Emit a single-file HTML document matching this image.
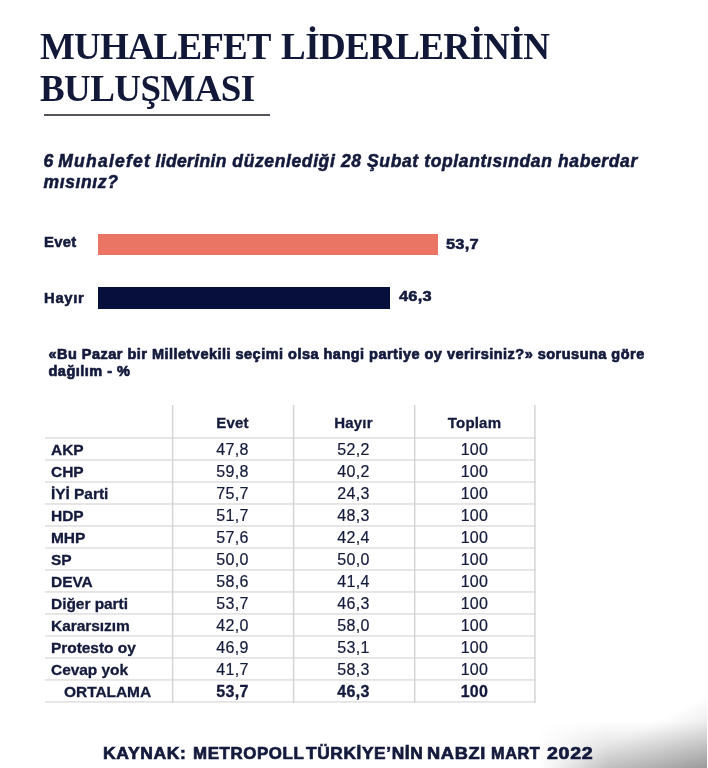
<!DOCTYPE html>
<html lang="tr">
<head>
<meta charset="utf-8">
<title>Muhalefet Liderlerinin Buluşması</title>
<style>
html,body{margin:0;padding:0;}
body{width:708px;height:768px;position:relative;overflow:hidden;background:#fff;color:#141a3c;font-family:"Liberation Sans",sans-serif;}
.abs{position:absolute;white-space:nowrap;}
.hv{-webkit-text-stroke:0.55px #141a3c;}
#q2,#src{-webkit-text-stroke:0.7px #141a3c;}
#corner{position:absolute;left:0;top:0;}
h1{position:absolute;left:40px;top:26px;margin:0;font-family:"Liberation Serif",serif;font-weight:bold;font-size:37px;line-height:42.4px;color:#121838;white-space:nowrap;letter-spacing:-0.6px;}
#rule{position:absolute;left:44px;top:114px;width:225.5px;height:2px;background:#54555c;}
#q1{left:43.5px;top:151px;font-weight:bold;font-style:italic;font-size:17.5px;line-height:20.7px;letter-spacing:0.62px;color:#141a3c;}
.lbl{font-weight:bold;font-size:14.8px;letter-spacing:0.3px;color:#141a3c;}
.val{letter-spacing:0.2px;transform:scaleX(1.11);transform-origin:0 0;}
.bar{position:absolute;height:22px;}
#q2{left:48.5px;top:345.5px;font-weight:bold;font-size:14.5px;line-height:17.5px;letter-spacing:0.48px;color:#141a3c;}
table{position:absolute;left:45px;top:405px;border-collapse:collapse;border-spacing:0;table-layout:fixed;width:490px;font-size:16px;color:#141a3c;}
td,th{padding:2px 0 0 0;height:20px;line-height:19px;vertical-align:top;letter-spacing:0.35px;text-align:center;font-weight:normal;overflow:hidden;white-space:nowrap;}
th{padding-top:3px;height:30px;line-height:29px;font-weight:bold;font-size:15px;letter-spacing:0.2px;}
td{-webkit-text-stroke:0.2px #141a3c;}
td.n,th.n{text-align:left;padding-left:6px;font-weight:bold;font-size:15.5px;letter-spacing:-0.05px;}
tr.avg td{font-weight:bold;}
tr.avg td.n{padding-left:19px;}
th,td.n,tr.avg td{-webkit-text-stroke:0.3px #141a3c;}
#src{left:0;top:743px;width:708px;height:20px;font-weight:bold;font-size:17.3px;line-height:20px;letter-spacing:0.62px;color:#141a3c;}
</style>
</head>
<body>
<svg id="corner" width="708" height="768" viewBox="0 0 708 768">
<defs>
<linearGradient id="cg" gradientUnits="userSpaceOnUse" x1="558.0" y1="768" x2="587.7" y2="827.4">
<stop offset="0.00" stop-color="#000" stop-opacity="0.0000"/>
<stop offset="0.10" stop-color="#000" stop-opacity="0.0137"/>
<stop offset="0.20" stop-color="#000" stop-opacity="0.0325"/>
<stop offset="0.30" stop-color="#000" stop-opacity="0.0540"/>
<stop offset="0.40" stop-color="#000" stop-opacity="0.0773"/>
<stop offset="0.50" stop-color="#000" stop-opacity="0.1022"/>
<stop offset="0.60" stop-color="#000" stop-opacity="0.1284"/>
<stop offset="0.70" stop-color="#000" stop-opacity="0.1557"/>
<stop offset="0.80" stop-color="#000" stop-opacity="0.1840"/>
<stop offset="0.90" stop-color="#000" stop-opacity="0.2131"/>
<stop offset="1.00" stop-color="#000" stop-opacity="0.2431"/>
</linearGradient>
<linearGradient id="vg" gradientUnits="userSpaceOnUse" x1="0" y1="722" x2="0" y2="768">
<stop offset="0" stop-color="#000" stop-opacity="0"/>
<stop offset="1" stop-color="#000" stop-opacity="0.2"/>
</linearGradient>
<linearGradient id="hg" gradientUnits="userSpaceOnUse" x1="538" y1="0" x2="608" y2="0">
<stop offset="0" stop-color="#000"/>
<stop offset="1" stop-color="#fff"/>
</linearGradient>
<mask id="hm" maskUnits="userSpaceOnUse" x="500" y="700" width="208" height="68"><rect x="500" y="700" width="208" height="68" fill="url(#hg)"/></mask>
</defs>
<rect x="500" y="660" width="207" height="108" fill="url(#cg)"/>
<rect x="500" y="722" width="207" height="46" fill="url(#vg)" mask="url(#hm)"/>
</svg>
<h1 id="title"><span style="letter-spacing:-0.88px">MUHALEFET</span><span style="margin-left:1.9px"> LİDERLERİNİN</span><br>BULUŞMASI</h1>
<div id="rule"></div>
<div class="abs hv" id="q1">6 <span style="margin-left:-1.2px;letter-spacing:1.26px">Muhalefet</span> <span style="margin-left:-1.2px;letter-spacing:0.37px">liderinin</span> düzenlediği 28 Şubat toplantısından haberdar<br>mısınız?</div>

<div class="abs hv lbl" id="l1" style="left:44px;top:234px;">Evet</div>
<div class="bar" id="b1" style="left:98px;top:234px;width:339.5px;height:21px;background:#eb7565;"></div>
<div class="abs hv lbl val" id="v1" style="left:446px;top:236px;">53,7</div>

<div class="abs hv lbl" id="l2" style="left:44px;top:290px;letter-spacing:0.7px;">Hayır</div>
<div class="bar" id="b2" style="left:98px;top:287px;width:292px;height:22px;background:#070f3c;"></div>
<div class="abs hv lbl val" id="v2" style="left:398.5px;top:288px;">46,3</div>

<div class="abs hv" id="q2">«Bu Pazar bir Milletvekili seçimi olsa hangi partiye oy verirsiniz?» sorusuna göre<br>dağılım - %</div>

<svg id="grid" width="708" height="768" viewBox="0 0 708 768" style="position:absolute;left:0;top:0"><g fill="#e4e4e4"><rect x="45" y="437.10" width="490.6" height="1.8"/><rect x="45" y="459.09" width="490.6" height="1.8"/><rect x="45" y="481.08" width="490.6" height="1.8"/><rect x="45" y="503.07" width="490.6" height="1.8"/><rect x="45" y="525.06" width="490.6" height="1.8"/><rect x="45" y="547.05" width="490.6" height="1.8"/><rect x="45" y="569.04" width="490.6" height="1.8"/><rect x="45" y="591.03" width="490.6" height="1.8"/><rect x="45" y="613.02" width="490.6" height="1.8"/><rect x="45" y="635.01" width="490.6" height="1.8"/><rect x="45" y="657.00" width="490.6" height="1.8"/><rect x="45" y="678.99" width="490.6" height="1.8"/><rect x="45" y="700.98" width="490.6" height="1.8"/></g><g fill="#d4d4d4"><rect x="171.85" y="405" width="1.5" height="297.9"/><rect x="292.85" y="405" width="1.5" height="297.9"/><rect x="413.95" y="405" width="1.5" height="297.9"/><rect x="534.15" y="405" width="1.5" height="297.9"/></g></svg>
<table id="tbl">
<colgroup><col style="width:127px"><col style="width:121px"><col style="width:121px"><col style="width:121px"></colgroup>
<tr><th class="n"></th><th>Evet</th><th>Hayır</th><th>Toplam</th></tr>
<tr><td class="n">AKP</td><td>47,8</td><td>52,2</td><td>100</td></tr>
<tr><td class="n">CHP</td><td>59,8</td><td>40,2</td><td>100</td></tr>
<tr><td class="n">İYİ Parti</td><td>75,7</td><td>24,3</td><td>100</td></tr>
<tr><td class="n">HDP</td><td>51,7</td><td>48,3</td><td>100</td></tr>
<tr><td class="n">MHP</td><td>57,6</td><td>42,4</td><td>100</td></tr>
<tr><td class="n">SP</td><td>50,0</td><td>50,0</td><td>100</td></tr>
<tr><td class="n">DEVA</td><td>58,6</td><td>41,4</td><td>100</td></tr>
<tr><td class="n">Diğer parti</td><td>53,7</td><td>46,3</td><td>100</td></tr>
<tr><td class="n">Kararsızım</td><td>42,0</td><td>58,0</td><td>100</td></tr>
<tr><td class="n">Protesto oy</td><td>46,9</td><td>53,1</td><td>100</td></tr>
<tr><td class="n">Cevap yok</td><td>41,7</td><td>58,3</td><td>100</td></tr>
<tr class="avg"><td class="n">ORTALAMA</td><td>53,7</td><td>46,3</td><td>100</td></tr>
</table>

<div class="abs hv" id="src"><span style="position:absolute;left:103.20px;transform-origin:0 0;transform:scaleX(1.0138)">KAYNAK:</span> <span style="position:absolute;left:192.60px;transform-origin:0 0;transform:scaleX(0.9762)">METROPOLL</span> <span style="position:absolute;left:306.20px;transform-origin:0 0;transform:scaleX(1.0009)">TÜRKİYE’NİN</span> <span style="position:absolute;left:427.00px;transform-origin:0 0;transform:scaleX(1.0559)">NABZI</span> <span style="position:absolute;left:491.00px;transform-origin:0 0;transform:scaleX(0.9412)">MART</span> <span style="position:absolute;left:547.20px;transform-origin:0 0;transform:scaleX(1.1325)">2022</span></div>
</body>
</html>
